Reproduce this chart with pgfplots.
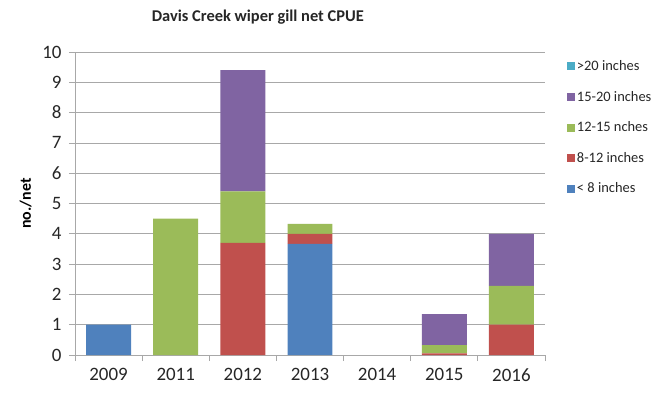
\documentclass[border=0pt]{standalone}
\usepackage{pgfplots}
\pgfplotsset{compat=1.18}
\usepackage{fontspec}
\setmainfont{Carlito}
\definecolor{cblue}{HTML}{4F81BD}
\definecolor{cred}{HTML}{C0504D}
\definecolor{cgreen}{HTML}{9BBB59}
\definecolor{cpurple}{HTML}{8064A2}
\definecolor{cteal}{HTML}{4BACC6}
\definecolor{gridgray}{HTML}{A8A8A8}
\begin{document}
\begin{tikzpicture}
\begin{axis}[
  scale only axis,
  width=470bp, height=303bp,
  xmin=-0.5, xmax=6.5, ymin=0, ymax=10,
  ybar stacked, bar width=0.67,
  xtick={0,1,2,3,4,5,6},
  xticklabels={2009,2011,2012,2013,2014,2015,2016},
  minor xtick={-0.5,0.5,...,6.5},
  ytick={0,1,...,10},
  major x tick style={draw=none},
  minor x tick style={draw=gridgray, line width=0.8pt},
  y tick style={draw=gridgray, line width=0.8pt},
  tick align=outside,
  minor tick length=6bp, major tick length=6bp,
  axis x line*=bottom, axis y line*=left,
  axis line style={draw=gridgray, line width=0.8pt, -},
  ymajorgrids,
  grid style={draw=gridgray, line width=0.8pt},
  tick label style={font=\fontsize{19}{22}\selectfont, text=black!85},
  /pgf/number format/assume math mode=true,
  xticklabel style={yshift=-4bp},
  yticklabel style={xshift=-4bp},
  ylabel={\bfseries no./net},
  ylabel style={font=\fontsize{16}{19}\selectfont, at={(axis description cs:-0.085,0.5)}, anchor=south},
  clip=false,
  reverse legend,
  legend style={draw=none, fill=none, at={(axis description cs:1.04,0.985)}, anchor=north west,
    font=\fontsize{14.5}{17}\selectfont, row sep=15bp, text=black!85},
  legend cell align=left,
  legend image code/.code={\fill[#1] (0bp,-4bp) rectangle (8bp,4bp);},
]
\addplot[fill=cblue, draw=none] coordinates {(0,1.0) (1,0) (2,0) (3,3.67) (4,0) (5,0) (6,0)};
\addplot[fill=cred, draw=none] coordinates {(0,0) (1,0) (2,3.7) (3,0.33) (4,0) (5,0.05) (6,1.0)};
\addplot[fill=cgreen, draw=none] coordinates {(0,0) (1,4.5) (2,1.7) (3,0.33) (4,0) (5,0.28) (6,1.28)};
\addplot[fill=cpurple, draw=none] coordinates {(0,0) (1,0) (2,4.0) (3,0) (4,0) (5,1.02) (6,1.72)};
\addplot[fill=cteal, draw=none] coordinates {(0,0) (1,0) (2,0) (3,0) (4,0) (5,0) (6,0)};
\legend{< 8 inches, 8-12 inches, 12-15 nches, 15-20 inches, >20 inches}
\node[font=\bfseries\fontsize{16.5}{19}\selectfont, text=black!85] at (axis description cs:0.389,1.115) {Davis Creek wiper gill net CPUE};
\path (axis description cs:0,0) ++(-75bp,-41bp) coordinate (bbA);
\path (axis description cs:0,0) ++(592bp,355bp) coordinate (bbB);
\end{axis}
\useasboundingbox (bbA) rectangle (bbB);
\end{tikzpicture}
\end{document}
